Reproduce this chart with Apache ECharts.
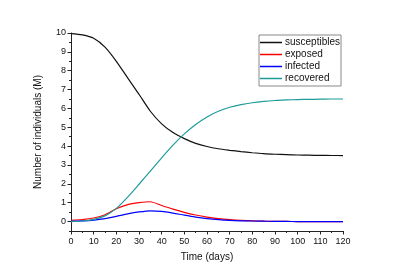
<!DOCTYPE html>
<html><head><meta charset="utf-8">
<script src="https://cdn.jsdelivr.net/npm/echarts@6/dist/echarts.min.js"></script>
<style>html,body{margin:0;padding:0;background:#fff}#c{width:398px;height:278px}</style>
</head><body><div id="c"></div>
<script>
var days = [0,5,10,15,20,25,30,35,40,45,50,55,60,65,70,75,80,85,90,95,100,105,110,115,120];
var susceptibles = [9.97,9.9,9.72,9.25,8.5,7.62,6.75,5.85,5.18,4.72,4.4,4.15,3.98,3.86,3.78,3.71,3.65,3.6,3.57,3.55,3.53,3.52,3.51,3.505,3.5];
var exposed = [0.07,0.11,0.19,0.36,0.68,0.9,1.0,1.05,0.85,0.66,0.49,0.35,0.24,0.16,0.1,0.06,0.04,0.02,0.01,0.01,0.0,0.0,0.0,0.0,0.0];
var infected = [0.02,0.04,0.08,0.16,0.28,0.41,0.51,0.57,0.54,0.45,0.34,0.24,0.16,0.1,0.06,0.04,0.03,0.02,0.01,0.01,0.0,0.0,0.0,0.0,0.0];
var recovered = [0.0,0.03,0.12,0.3,0.7,1.3,1.98,2.68,3.38,4.05,4.65,5.15,5.55,5.85,6.06,6.2,6.3,6.37,6.42,6.45,6.47,6.48,6.49,6.5,6.5];
var yMajor = [0,1,2,3,4,5,6,7,8,9,10];
var yMinor = [-0.5,0.5,1.5,2.5,3.5,4.5,5.5,6.5,7.5,8.5,9.5];
var names = ['susceptibles','exposed','infected','recovered'];
var colors = ['#111111','#ff0000','#0000ff','#1f9b9b'];
var values = [susceptibles, exposed, infected, recovered];

function pairs(v){ return days.map(function(d,i){ return [d, v[i]]; }); }
var font = 'Liberation Sans, Arial, sans-serif';
var chart = echarts.init(document.getElementById('c'), null, {renderer:'canvas'});
chart.setOption({
  animation: false,
  backgroundColor: '#fff',
  textStyle: {fontFamily: font},
  grid: {left: 71, right: 55, top: 33, bottom: 47},
  legend: {
    orient: 'vertical', left: 259, top: 35,
    data: names,
    icon: 'rect', itemWidth: 22, itemHeight: 1.5, itemGap: 1,
    borderColor: '#888', borderWidth: 1, padding: [2, 1, 2, 1],
    textStyle: {fontSize: 10, color: '#111', fontFamily: font, lineHeight: 11, padding: [0,0,0,-2]}
  },
  xAxis: {
    type: 'value', min: 0, max: 120, interval: 10,
    name: 'Time (days)', nameLocation: 'middle', nameGap: 21,
    nameTextStyle: {fontSize: 10, color: '#111', fontFamily: font},
    axisLine: {onZero: false, lineStyle: {color: '#222', width: 1}},
    axisTick: {show: true, length: 3.5, lineStyle: {color: '#222'}},
    minorTick: {show: true, splitNumber: 2, length: 2, lineStyle: {color: '#222'}},
    axisLabel: {fontSize: 9, color: '#111', margin: 6, fontFamily: font},
    splitLine: {show: false}, minorSplitLine: {show: false}
  },
  yAxis: [{
    type: 'value', min: -0.5, max: 10,
    name: 'Number of individuals (M)', nameLocation: 'middle', nameGap: 28,
    nameTextStyle: {fontSize: 10, color: '#111', fontFamily: font},
    axisLine: {show: true, lineStyle: {color: '#222', width: 1}},
    axisTick: {show: true, length: 3.5, customValues: yMajor, lineStyle: {color: '#222'}},
    axisLabel: {fontSize: 9, color: '#111', margin: 5, customValues: yMajor, fontFamily: font},
    splitLine: {show: false}
  },{
    type: 'value', min: -0.5, max: 10, position: 'left', offset: 0,
    axisLine: {show: false},
    axisTick: {show: true, length: 2, customValues: yMinor, lineStyle: {color: '#222'}},
    axisLabel: {show: false, customValues: yMinor},
    splitLine: {show: false}
  }],
  series: names.map(function(n, i){
    return {
      name: n, type: 'line', data: pairs(values[i]), yAxisIndex: 0,
      smooth: 0.25, symbol: 'none', showSymbol: false,
      lineStyle: {color: colors[i], width: 1.2}, itemStyle: {color: colors[i]}
    };
  })
});
</script></body></html>
